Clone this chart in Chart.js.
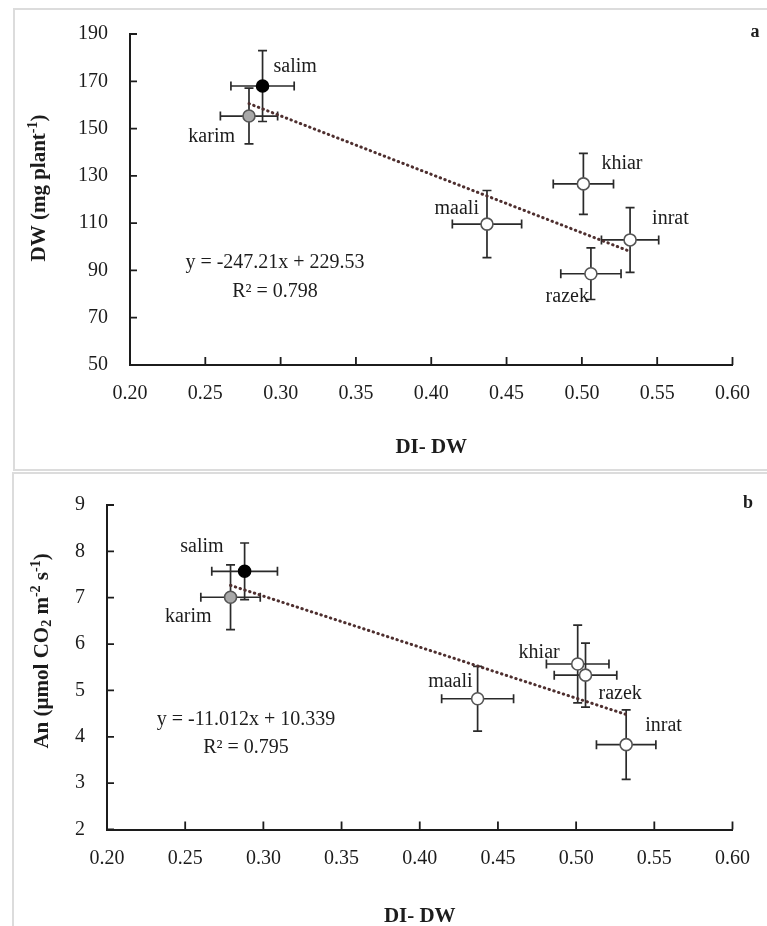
<!DOCTYPE html>
<html>
<head>
<meta charset="utf-8">
<title>DI-DW scatter</title>
<script src="https://cdn.jsdelivr.net/npm/chart.js@4.4.1/dist/chart.umd.min.js"></script>
<style>
  html, body { margin: 0; padding: 0; background: #fff; overflow: hidden; width: 767px; height: 926px; }
  .frame { position: absolute; border: 2px solid #dcdcdc; box-sizing: border-box; }
  canvas { position: absolute; left: 0; }
</style>
</head>
<body>
<div class="frame" style="left:13px; top:8px; width:790px; height:463px;"></div>
<div class="frame" style="left:12px; top:472px; width:790px; height:480px;"></div>
<canvas id="chartA" width="767" height="471" style="top:0"></canvas>
<canvas id="chartB" width="767" height="480" style="top:471px"></canvas>
<script>
// cultivars, in the same order in every array below
const cultivars = ['salim', 'karim', 'khiar', 'maali', 'inrat', 'razek'];

// drought index on dry weight (x) and its error
const diDW    = [0.288, 0.279, 0.501, 0.437, 0.532, 0.506];
const diDWErr = [0.021, 0.019, 0.020, 0.023, 0.019, 0.020];

// panel a: dry weight (mg plant-1)
const dwMean = [168.0, 155.3, 126.6, 109.6, 102.9, 88.6];
const dwErr  = [15.0, 11.8, 12.9, 14.2, 13.7, 10.9];

// panel b: net assimilation (umol CO2 m-2 s-1)
const anMean = [7.57, 7.01, 5.57, 4.82, 3.83, 5.33];
const anErr  = [0.61, 0.70, 0.84, 0.70, 0.75, 0.69];

// linear fits
const fitA = { slope: -247.21, intercept: 229.53, r2: '0.798' };
const fitB = { slope: -11.012, intercept: 10.339, r2: '0.795' };

// tick ranges
const xTicks = { min: 0.20, max: 0.60, step: 0.05 };
const yTicksA = { min: 50, max: 190, step: 20 };
const yTicksB = { min: 2, max: 9, step: 1 };

const FONT = "'Liberation Serif', 'DejaVu Serif', serif";
const INK = '#1c1c1c';
const fills   = ['#000000', '#a8a8a8', '#ffffff', '#ffffff', '#ffffff', '#ffffff'];
const strokes = ['#000000', '#555555', '#555555', '#555555', '#555555', '#555555'];

// name label placement around each point: [dx, dy, align]
const namePosA = [[11, -19, 'left'], [-14, 21, 'right'], [18, -20, 'left'],
                  [-8, -15, 'right'], [22, -21, 'left'], [-2, 23, 'right']];
const namePosB = [[-21, -25, 'right'], [-19, 19, 'right'], [-18, -11, 'right'],
                  [-5, -17, 'right'], [19, -19, 'left'], [13, 19, 'left']];

function fmt(v) { return (v < 0 ? '- ' + (-v) : '+ ' + v); }

// rotated axis title with super/subscripts
function drawRich(ctx, parts, cx, cy, size) {
  ctx.save();
  ctx.translate(cx, cy);
  ctx.rotate(-Math.PI / 2);
  ctx.fillStyle = INK;
  ctx.textBaseline = 'middle';
  const fontFor = m => 'bold ' + (m ? Math.round(size * 0.65) : size) + 'px ' + FONT;
  let total = 0;
  parts.forEach(([t, m]) => { ctx.font = fontFor(m); total += ctx.measureText(t).width; });
  let x = -total / 2;
  parts.forEach(([t, m]) => {
    ctx.font = fontFor(m);
    const dy = m === 'sup' ? -size * 0.33 : m === 'sub' ? size * 0.22 : 0;
    ctx.textAlign = 'left';
    ctx.fillText(t, x, dy);
    x += ctx.measureText(t).width;
  });
  ctx.restore();
}

function makeDecor(p) {
  return {
    id: 'decor',
    beforeDatasetsDraw(chart) {
      const { ctx, scales: { x, y } } = chart;
      ctx.save();
      ctx.strokeStyle = '#2a2a2a';
      ctx.lineWidth = 1.7;
      const cap = 4.5;
      p.ys.forEach((yv, i) => {
        const xv = diDW[i];
        const px = x.getPixelForValue(xv), py = y.getPixelForValue(yv);
        const x0 = x.getPixelForValue(xv - diDWErr[i]), x1 = x.getPixelForValue(xv + diDWErr[i]);
        const y0 = y.getPixelForValue(yv - p.yErr[i]), y1 = y.getPixelForValue(yv + p.yErr[i]);
        ctx.beginPath();
        ctx.moveTo(x0, py); ctx.lineTo(x1, py);
        ctx.moveTo(x0, py - cap); ctx.lineTo(x0, py + cap);
        ctx.moveTo(x1, py - cap); ctx.lineTo(x1, py + cap);
        ctx.moveTo(px, y0); ctx.lineTo(px, y1);
        ctx.moveTo(px - cap, y0); ctx.lineTo(px + cap, y0);
        ctx.moveTo(px - cap, y1); ctx.lineTo(px + cap, y1);
        ctx.stroke();
      });
      ctx.restore();
    },
    afterDraw(chart) {
      const { ctx, chartArea: a, scales: { x, y } } = chart;
      ctx.save();
      // inward tick marks
      ctx.strokeStyle = INK;
      ctx.lineWidth = 1.8;
      ctx.beginPath();
      x.ticks.forEach(t => {
        const px = x.getPixelForValue(t.value);
        ctx.moveTo(px, a.bottom); ctx.lineTo(px, a.bottom - 8);
      });
      y.ticks.forEach(t => {
        const py = y.getPixelForValue(t.value);
        ctx.moveTo(a.left, py); ctx.lineTo(a.left + 7, py);
      });
      ctx.stroke();

      // cultivar names
      ctx.fillStyle = INK;
      ctx.font = '20px ' + FONT;
      ctx.textBaseline = 'middle';
      cultivars.forEach((name, i) => {
        const [dx, dy, al] = p.namePos[i];
        ctx.textAlign = al;
        ctx.fillText(name, x.getPixelForValue(diDW[i]) + dx, y.getPixelForValue(p.ys[i]) + dy);
      });

      // fit equation
      ctx.textAlign = 'center';
      ctx.font = '20px ' + FONT;
      ctx.fillText('y = ' + (p.fit.slope < 0 ? '-' : '') + Math.abs(p.fit.slope) + 'x ' + fmt(p.fit.intercept),
                   p.eq[0], p.eq[1]);
      ctx.fillText('R\u00B2 = ' + p.fit.r2, p.eq[2], p.eq[3]);

      // panel letter
      ctx.font = 'bold 18px ' + FONT;
      ctx.fillText(p.letter, p.letterPos[0], p.letterPos[1]);
      ctx.restore();

      drawRich(ctx, p.yTitle, p.yTitlePos[0], p.yTitlePos[1], 21);
    }
  };
}

function makeChart(id, p) {
  const xs = diDW;
  const lo = Math.min(...xs), hi = Math.max(...xs);
  const trend = [lo, hi].map(v => ({ x: v, y: p.fit.slope * v + p.fit.intercept }));
  return new Chart(document.getElementById(id), {
    type: 'scatter',
    data: {
      datasets: [{
        data: xs.map((v, i) => ({ x: v, y: p.ys[i] })),
        pointRadius: 6,
        pointHoverRadius: 6,
        pointBackgroundColor: fills,
        pointBorderColor: strokes,
        pointBorderWidth: 1.6,
        order: 0
      }, {
        data: trend,
        showLine: true,
        pointRadius: 0,
        borderColor: '#4e2f2f',
        borderWidth: 3,
        borderDash: [0.5, 4.5],
        borderCapStyle: 'round',
        order: 1
      }]
    },
    options: {
      responsive: false,
      animation: false,
      events: [],
      layout: { padding: p.padding },
      plugins: { legend: { display: false }, tooltip: { enabled: false } },
      scales: {
        x: {
          type: 'linear',
          min: xTicks.min, max: xTicks.max,
          grid: { display: false, drawTicks: false },
          border: { display: true, color: INK, width: 2 },
          ticks: {
            stepSize: xTicks.step, padding: 17, color: INK,
            font: { family: FONT, size: 20 },
            callback: v => v.toFixed(2)
          },
          title: {
            display: true, text: 'DI- DW', color: INK,
            font: { family: FONT, size: 21, weight: 'bold' },
            padding: { top: 0, bottom: p.xTitlePad }
          },
          afterFit: s => { s.height = p.xHeight; }
        },
        y: {
          min: p.yRange.min, max: p.yRange.max,
          grid: { display: false, drawTicks: false },
          border: { display: true, color: INK, width: 2 },
          ticks: {
            stepSize: p.yRange.step, padding: 22, color: INK,
            font: { family: FONT, size: 20 }
          },
          afterFit: s => { s.width = p.yWidth; }
        }
      }
    },
    plugins: [makeDecor(p)]
  });
}

makeChart('chartA', {
  ys: dwMean, yErr: dwErr, fit: fitA, yRange: yTicksA, namePos: namePosA,
  padding: { left: 0, top: 34, right: 28, bottom: 0 },
  yWidth: 130, xHeight: 106, xTitlePad: 11,
  eq: [275, 263, 275, 292], letter: 'a', letterPos: [755, 32],
  yTitle: [['DW (mg plant', ''], ['-1', 'sup'], [')', '']], yTitlePos: [40, 188]
});

makeChart('chartB', {
  ys: anMean, yErr: anErr, fit: fitB, yRange: yTicksB, namePos: namePosB,
  padding: { left: 0, top: 28, right: 27, bottom: 0 },
  yWidth: 107, xHeight: 121.5, xTitlePad: 22,
  eq: [246, 249, 246, 277], letter: 'b', letterPos: [748, 32],
  yTitle: [['An (\u00B5mol CO', ''], ['2', 'sub'], [' m', ''], ['-2', 'sup'], [' s', ''], ['-1', 'sup'], [')', '']],
  yTitlePos: [43, 180]
});
</script>
</body>
</html>
